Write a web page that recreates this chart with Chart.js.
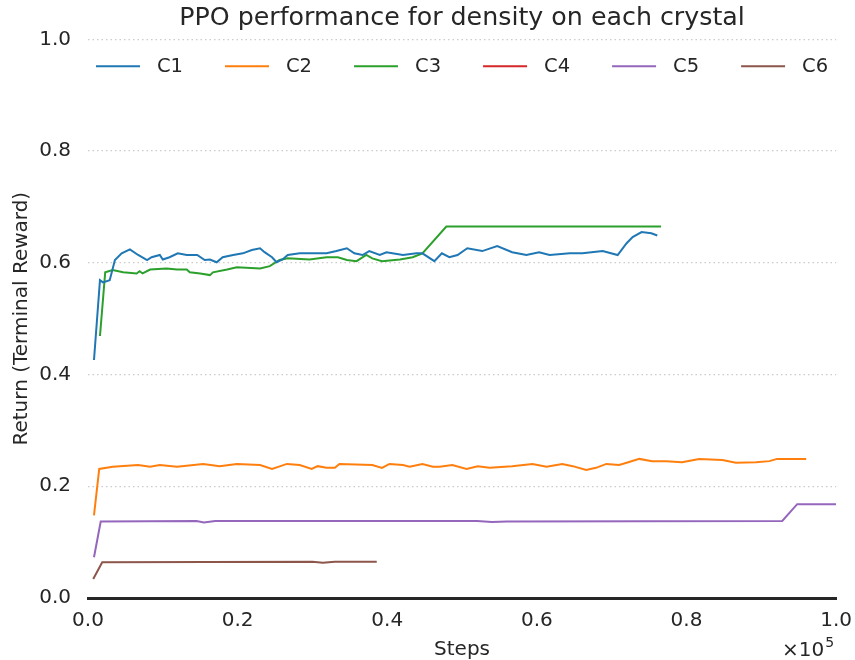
<!DOCTYPE html>
<html>
<head>
<meta charset="utf-8">
<script src="https://cdn.jsdelivr.net/npm/chart.js@4/dist/chart.umd.min.js"></script>
<style>
  html, body { margin: 0; padding: 0; background: #fff; }
</style>
</head>
<body>
<canvas id="ppoChart" width="855" height="660"></canvas>
<script>
const crystals = ["C1", "C2", "C3", "C4", "C5", "C6"];
const colors = ["#1f77b4", "#ff7f0e", "#2ca02c", "#d62728", "#9467bd", "#8c564b"];
const axisTicks = [0, 0.2, 0.4, 0.6, 0.8, 1.0];

// steps in units of 1e5
const c1Steps = [0.008, 0.016, 0.020, 0.029, 0.036, 0.045, 0.056, 0.067, 0.079, 0.085, 0.096, 0.100, 0.109, 0.120, 0.132, 0.146, 0.156, 0.163, 0.172, 0.180, 0.194, 0.207, 0.219, 0.230, 0.236, 0.246, 0.252, 0.260, 0.267, 0.283, 0.300, 0.319, 0.332, 0.346, 0.356, 0.367, 0.376, 0.390, 0.399, 0.421, 0.439, 0.447, 0.463, 0.473, 0.483, 0.494, 0.507, 0.527, 0.547, 0.567, 0.586, 0.603, 0.617, 0.644, 0.661, 0.688, 0.708, 0.720, 0.728, 0.740, 0.753, 0.761];
const c1Return = [0.426, 0.569, 0.565, 0.569, 0.605, 0.617, 0.624, 0.614, 0.605, 0.610, 0.614, 0.606, 0.610, 0.617, 0.614, 0.614, 0.605, 0.606, 0.601, 0.610, 0.614, 0.617, 0.623, 0.626, 0.619, 0.610, 0.601, 0.606, 0.614, 0.617, 0.617, 0.617, 0.621, 0.626, 0.617, 0.614, 0.621, 0.614, 0.619, 0.614, 0.617, 0.617, 0.603, 0.617, 0.610, 0.614, 0.626, 0.621, 0.630, 0.619, 0.614, 0.619, 0.614, 0.617, 0.617, 0.621, 0.614, 0.635, 0.646, 0.655, 0.653, 0.649];

const c2Steps = [0.008, 0.015, 0.033, 0.067, 0.083, 0.096, 0.119, 0.154, 0.176, 0.199, 0.230, 0.246, 0.266, 0.283, 0.299, 0.307, 0.319, 0.330, 0.336, 0.380, 0.393, 0.403, 0.421, 0.430, 0.447, 0.461, 0.470, 0.487, 0.506, 0.521, 0.537, 0.567, 0.594, 0.613, 0.634, 0.648, 0.666, 0.679, 0.693, 0.710, 0.720, 0.737, 0.754, 0.773, 0.794, 0.817, 0.848, 0.866, 0.893, 0.911, 0.921, 0.960];
const c2Return = [0.148, 0.231, 0.235, 0.238, 0.235, 0.238, 0.235, 0.240, 0.236, 0.240, 0.238, 0.231, 0.240, 0.238, 0.231, 0.236, 0.233, 0.233, 0.240, 0.238, 0.233, 0.240, 0.238, 0.235, 0.240, 0.235, 0.235, 0.238, 0.231, 0.236, 0.233, 0.236, 0.240, 0.235, 0.240, 0.236, 0.229, 0.233, 0.240, 0.238, 0.242, 0.249, 0.245, 0.245, 0.243, 0.249, 0.247, 0.242, 0.243, 0.245, 0.249, 0.249];

const c3Steps = [0.016, 0.023, 0.033, 0.047, 0.065, 0.069, 0.073, 0.083, 0.105, 0.119, 0.132, 0.136, 0.150, 0.163, 0.167, 0.186, 0.199, 0.230, 0.243, 0.256, 0.267, 0.296, 0.319, 0.334, 0.346, 0.359, 0.372, 0.380, 0.393, 0.417, 0.434, 0.447, 0.479, 0.766];
const c3Return = [0.469, 0.583, 0.587, 0.583, 0.581, 0.585, 0.581, 0.588, 0.590, 0.588, 0.588, 0.583, 0.581, 0.578, 0.583, 0.588, 0.592, 0.590, 0.594, 0.605, 0.608, 0.606, 0.610, 0.610, 0.605, 0.603, 0.614, 0.608, 0.603, 0.606, 0.610, 0.617, 0.665, 0.665];

// C4 has no visible curve
const c4Steps = [];
const c4Return = [];

const c5Steps = [0.008, 0.017, 0.145, 0.155, 0.170, 0.520, 0.540, 0.560, 0.928, 0.948, 1.000];
const c5Return = [0.073, 0.137, 0.138, 0.135, 0.138, 0.138, 0.136, 0.137, 0.138, 0.168, 0.168];

const c6Steps = [0.007, 0.019, 0.300, 0.314, 0.330, 0.386];
const c6Return = [0.034, 0.064, 0.065, 0.063, 0.065, 0.065];

const allSteps = [c1Steps, c2Steps, c3Steps, c4Steps, c5Steps, c6Steps];
const allReturns = [c1Return, c2Return, c3Return, c4Return, c5Return, c6Return];

const textColor = "#262626";
Chart.defaults.font.family = "'DejaVu Sans', sans-serif";
Chart.defaults.color = textColor;

// legend drawn inside the plot, in one row
const inlineLegend = {
  id: "inlineLegend",
  afterDraw(chart) {
    const { ctx, chartArea } = chart;
    const lineLen = 44, textGap = 17, itemGap = 42;
    ctx.save();
    ctx.font = "19.5px 'DejaVu Sans'";
    ctx.textBaseline = "middle";
    const sets = chart.data.datasets;
    const widths = sets.map(ds => lineLen + textGap + ctx.measureText(ds.label).width);
    const total = widths.reduce((a, b) => a + b, 0) + itemGap * (sets.length - 1);
    let x = (chartArea.left + chartArea.right) / 2 - total / 2;
    const y = chartArea.top + 27;
    sets.forEach((ds, i) => {
      ctx.strokeStyle = ds.borderColor;
      ctx.lineWidth = 2;
      ctx.beginPath();
      ctx.moveTo(x, y);
      ctx.lineTo(x + lineLen, y);
      ctx.stroke();
      ctx.fillStyle = textColor;
      ctx.fillText(ds.label, x + lineLen + textGap, y + 1);
      x += widths[i] + itemGap;
    });
    ctx.restore();
  }
};

// x10^5 offset text under the x axis
const offsetText = {
  id: "offsetText",
  afterDraw(chart) {
    const { ctx, chartArea } = chart;
    ctx.save();
    ctx.fillStyle = textColor;
    ctx.textAlign = "right";
    ctx.textBaseline = "alphabetic";
    ctx.font = "14px 'DejaVu Sans'";
    const right = chartArea.right - 2;
    const expW = ctx.measureText("5").width;
    ctx.fillText("5", right, 647);
    ctx.font = "20px 'DejaVu Sans'";
    ctx.fillText("\u00d710", right - expW - 1, 656);
    ctx.restore();
  }
};

new Chart(document.getElementById("ppoChart"), {
  type: "line",
  data: {
    datasets: crystals.map((name, i) => ({
      label: name,
      data: allSteps[i].map((s, j) => ({ x: s, y: allReturns[i][j] })),
      borderColor: colors[i],
      backgroundColor: colors[i],
      borderWidth: 2,
      pointRadius: 0,
      tension: 0
    }))
  },
  options: {
    responsive: false,
    animation: false,
    layout: { padding: { left: 0, right: 18, top: 0, bottom: 0 } },
    plugins: {
      legend: { display: false },
      tooltip: { enabled: false },
      title: {
        display: true,
        fullSize: false,
        text: "PPO performance for density on each crystal",
        color: textColor,
        font: { size: 25.3, weight: "normal" },
        padding: { top: 3, bottom: 6 }
      }
    },
    scales: {
      x: {
        type: "linear",
        min: 0,
        max: 1,
        afterBuildTicks: s => { s.ticks = axisTicks.map(v => ({ value: v })); },
        grid: { display: false },
        border: { display: true, color: textColor, width: 3 },
        ticks: {
          color: textColor,
          font: { size: 20 },
          padding: 3,
          maxRotation: 0,
          callback: v => Number(v).toFixed(1)
        },
        title: {
          display: true,
          text: "Steps",
          color: textColor,
          font: { size: 20, lineHeight: 1 },
          padding: { top: 0, bottom: 0 }
        },
        afterFit: s => { s.height = 62; }
      },
      y: {
        min: 0,
        max: 1,
        afterBuildTicks: s => { s.ticks = axisTicks.map(v => ({ value: v })); },
        grid: {
          color: c => (c.tick && c.tick.value === 0) ? "rgba(0,0,0,0)" : "#cccccc",
          lineWidth: 1.3,
          drawTicks: false
        },
        border: { display: false, dash: [1.5, 3] },
        ticks: {
          color: textColor,
          font: { size: 20 },
          padding: 17,
          callback: v => Number(v).toFixed(1)
        },
        title: {
          display: true,
          text: "Return (Terminal Reward)",
          color: textColor,
          font: { size: 20 },
          padding: { top: 10, bottom: 0 }
        },
        afterFit: s => { s.width = 88; }
      }
    }
  },
  plugins: [inlineLegend, offsetText]
});
</script>
</body>
</html>
